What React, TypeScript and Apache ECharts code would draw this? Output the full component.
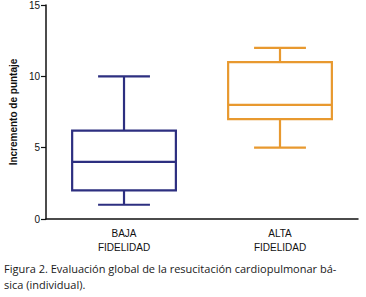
import React, { useEffect, useRef } from "react";
import * as echarts from "echarts";

const categories = ["BAJA\nFIDELIDAD", "ALTA\nFIDELIDAD"];
// [min, Q1, median, Q3, max]
const boxValues = [
  [1, 2, 4, 6.2, 10],
  [5, 7, 8, 11, 12],
];
const boxColors = ["#2d2f80", "#e8992f"];
const yTicks = [0, 5, 10, 15];
const yAxisName = "Incremento de puntaje";
const captionLines = [
  "Figura 2. Evaluación global de la resucitación cardiopulmonar bá-",
  "sica (individual).",
];

export default function App() {
  const ref = useRef<HTMLDivElement>(null);
  useEffect(() => {
    if (!ref.current) return;
    const chart = echarts.init(ref.current, null, { renderer: "svg" });
    const data = boxValues.map((v, i) => [i, ...v]);
    chart.setOption({
      animation: false,
      backgroundColor: "#ffffff",
      grid: { left: 36, right: 8, top: 5, bottom: 78 },
      xAxis: {
        type: "category",
        data: categories,
        axisLine: { lineStyle: { color: "#111", width: 1.5 } },
        axisTick: { alignWithLabel: true, length: 4, lineStyle: { color: "#111", width: 1.2 } },
        axisLabel: {
          color: "#111",
          fontFamily: "'Liberation Sans'",
          fontSize: 10,
          lineHeight: 14,
          margin: 7,
        },
      },
      yAxis: {
        type: "value",
        min: yTicks[0],
        max: yTicks[yTicks.length - 1],
        interval: 5,
        name: yAxisName,
        nameLocation: "middle",
        nameGap: 23,
        nameTextStyle: {
          color: "#111",
          fontFamily: "'Liberation Sans'",
          fontSize: 10,
          fontWeight: "bold",
        },
        splitLine: { show: false },
        axisLine: { show: true, lineStyle: { color: "#111", width: 1.5 } },
        axisTick: { show: true, length: 5, lineStyle: { color: "#111", width: 1.2 } },
        axisLabel: {
          color: "#111",
          fontFamily: "'Liberation Sans'",
          fontSize: 10,
          margin: 6,
        },
      },
      series: [
        {
          type: "custom",
          data,
          encode: { x: 0, y: [1, 2, 3, 4, 5] },
          renderItem: (params: any, api: any) => {
            const idx = api.value(0);
            const band = api.size([1, 0])[0];
            const boxW = band * 0.665;
            const capW = boxW / 2;
            const pMin = api.coord([idx, api.value(1)]);
            const pQ1 = api.coord([idx, api.value(2)]);
            const pMed = api.coord([idx, api.value(3)]);
            const pQ3 = api.coord([idx, api.value(4)]);
            const pMax = api.coord([idx, api.value(5)]);
            const cx = pMed[0];
            const color = boxColors[params.dataIndex];
            const style = { stroke: color, lineWidth: 2.2, fill: "none" };
            return {
              type: "group",
              children: [
                { type: "rect", shape: { x: cx - boxW / 2, y: pQ3[1], width: boxW, height: pQ1[1] - pQ3[1] }, style: { ...style } },
                { type: "line", shape: { x1: cx - boxW / 2, y1: pMed[1], x2: cx + boxW / 2, y2: pMed[1] }, style: { ...style } },
                { type: "line", shape: { x1: cx, y1: pQ3[1], x2: cx, y2: pMax[1] }, style: { ...style } },
                { type: "line", shape: { x1: cx, y1: pQ1[1], x2: cx, y2: pMin[1] }, style: { ...style } },
                { type: "line", shape: { x1: cx - capW / 2, y1: pMax[1], x2: cx + capW / 2, y2: pMax[1] }, style: { ...style } },
                { type: "line", shape: { x1: cx - capW / 2, y1: pMin[1], x2: cx + capW / 2, y2: pMin[1] }, style: { ...style } },
              ],
            };
          },
        },
      ],
      graphic: captionLines.map((t, i) => ({
        type: "text",
        left: 4,
        top: 263 + i * 16,
        style: {
          text: t,
          fill: "#1a1a1a",
          font: "11px 'Open Sans'",
        },
      })),
    });
    return () => chart.dispose();
  }, []);
  return <div ref={ref} style={{ width: 366, height: 297, position: "absolute", left: 0, top: 0 }} />;
}
